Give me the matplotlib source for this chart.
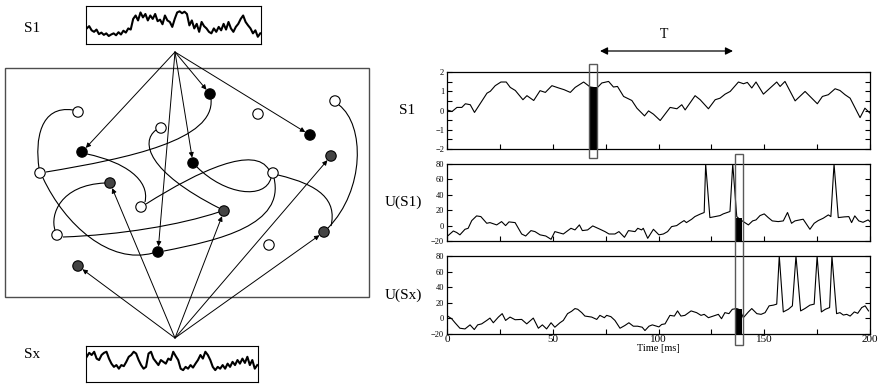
import numpy as np
import matplotlib
matplotlib.use("Agg")
import matplotlib.pyplot as plt
from matplotlib.patches import Circle, Rectangle, PathPatch
from matplotlib.path import Path
from matplotlib.transforms import blended_transform_factory
from matplotlib.ticker import MultipleLocator

plt.rcParams['font.family'] = ['Liberation Serif', 'DejaVu Serif']

# ---- data ----
t_s1 = [0, 2.4, 4.7, 7, 8.7, 11, 13, 18.9, 20.5, 22.8, 25.5, 28, 29.9, 32.3, 35.9, 37.8, 41, 44,
        46.5, 49.6, 52.8, 55.4, 58.3, 60.6, 64.6, 67.7, 70.9, 73.2, 76.4, 78.7, 80.6, 83.5, 87.4,
        89.8, 93.4, 95.3, 97.6, 100.8, 105.5, 108.7, 111, 112.6, 117.3, 119.7, 123.6, 126.8,
        129.1, 131.5, 133.9, 137.8, 140.2, 142, 144.1, 146.1, 149.6, 155.9, 157.5, 159.8, 164.6,
        169.3, 175.1, 177.5, 180.3, 183.5, 185.8, 188.2, 190.6, 195.3, 197.6, 200]
s1 = [0.03, -0.05, 0.16, 0.16, 0.35, 0.3, -0.1, 0.9, 1.0, 1.29, 1.48, 1.48, 1.2, 1.04, 0.56, 0.77,
      0.52, 1.03, 0.94, 1.29, 1.17, 1.08, 0.94, 1.2, 1.48, 1.22, 1.17, 1.43, 1.51, 1.22, 1.25, 0.73,
      0.52, 0.12, -0.28, -0.02, -0.19, -0.52, 0.16, 0.09, 0.3, 0.03, 0.77, 0.56, 0.09, 0.56, 0.64,
      0.85, 0.99, 1.48, 1.39, 1.46, 1.17, 1.48, 0.85, 1.48, 1.25, 1.51, 0.5, 0.99, 0.35, 0.73, 0.82,
      1.13, 1.04, 0.82, 0.64, -0.37, 0.12, -0.14]

t_u1 = [0.3, 3, 4.6, 6.1, 8.5, 10, 11.7, 14, 16, 18.8, 20.3, 23.5, 25.8, 27.7, 29.3, 32.2, 35.3,
        37.2, 39.7, 41.6, 44, 46.7, 49.2, 51, 55, 58.6, 60.5, 62.6, 64, 66.5, 68.9, 72.4, 74.7,
        76.6, 79.4, 81.3, 83.9, 85.8, 88.9, 90.2, 92, 92.8, 94.9, 97.6, 100.2, 102.3, 104.3,
        106.2, 108.6, 110.6, 112.1, 113.2, 115.7, 117.2, 119.6, 121.6, 122.3, 124.3, 126.7,
        129.1, 130.6, 133.8, 135.1, 137, 138.5, 140.1, 142.5, 144.5, 146.1, 148, 150, 151.9,
        153.8, 156.6, 159, 161, 162.9, 164.5, 168.4, 171.6, 173.6, 175.5, 177.9, 180.3, 181.5,
        183, 185, 187.8, 190, 191.3, 192.8, 194.7, 196.7, 199.1, 200]
u1 = [-13.5, -7, -9, -12, -4.8, -3.5, 6.5, 12.6, 11.7, 3, 3.9, 0.9, 5.2, 0, 4.8, 3.9, -10.9, -13.5,
      -6.5, -7.8, -12, -13.5, -17.8, -7.8, -10.9, -3.5, -5.6, 0.9, -6.5, -5.6, -0.4, -4.8, -7.8,
      -10.9, -10.9, -7.8, -15.2, -6.5, -7.8, -3.5, -5.6, -3.5, -16.5, -4.8, -12, -10.9, -7.8,
      -1.3, 0, 3.9, 6.5, 3.9, 8.3, 11.7, 14.8, 17, 80, 10.4, 11.7, 13, 15.2, 18.3, 80, 11.7, 8,
      5.2, 0.9, 6.1, 7.4, 13, 15.2, 10.4, 6.1, 5.2, 6.1, 17, 3, 6.1, 8.3, -4.8, 3, 6.5, 9.6, 13.9,
      11.7, 80, 10.4, 11.3, 11.7, 3.9, 12.6, 6.1, 4.3, 7.4, 5.2]

t_ux = [0.3, 2.2, 3.8, 6.1, 8.5, 10.9, 12.9, 14.5, 16.4, 18.8, 20.3, 21.9, 24.3, 26.1, 27.7, 29.8,
        32.2, 35.3, 37.7, 40.8, 43.2, 45.1, 47.1, 49.2, 51, 53.4, 55, 57, 58.9, 60.5, 61.8, 63.7,
        65.2, 68.4, 70.8, 72.3, 74.4, 75.5, 77.5, 79.4, 81.8, 84.1, 86, 88.1, 90.1, 92.3, 93.6,
        95.5, 97.1, 100.2, 101.5, 103.1, 105.4, 107.5, 109, 110.6, 112.5, 115.4, 118, 120.1,
        121.6, 123.6, 125.9, 128.3, 129.8, 131.4, 133.3, 134.9, 137, 138.5, 140.1, 142.5, 144.1,
        146.5, 148.5, 150.4, 152.3, 154.3, 155.9, 157.1, 159, 161.4, 163.3, 165, 167.2, 169.2,
        171.6, 173.6, 175, 177, 178.9, 180.9, 182, 184.2, 185.8, 187.4, 189, 190.6, 192.6, 194.2,
        196.1, 197.7, 199.3]
ux = [3, -0.4, -5.6, -12.6, -13.5, -8.3, -14.3, -8.3, -7, -2.6, 0.4, -5.6, 1.7, 6.1, -2.6, 1.7,
      -1.7, -1.3, -7, 0.4, -12.6, -8.3, -13.5, -5.6, -11.3, -5.6, -2.6, 6.1, 9.1, 12.6, 11.7, 7.4,
      3, 1.7, -1.3, 3.9, 0.9, 3.9, 2.2, -2.6, -12.6, -9.1, -5.6, -10, -10, -11.3, -15.6, -10,
      -8.3, -10.9, -7.8, -7, 3.9, 3, 9.6, 3, 3.9, 9.6, 7.4, 3.9, 5.2, 0.9, 3, 5.2, -0.4, 7.4, 6.1,
      11.7, 12.6, 11, 0.9, 8.3, 12.6, 6.1, 5.2, 7.4, 16.1, 17, 18.3, 80, 8.3, 11.7, 16.1, 80, 9.6,
      12.6, 17, 18.3, 80, 8.3, 11.7, 13.9, 80, 6.1, 7.4, 4.3, 5.2, 3, 8.3, 6.5, 13.9, 16.1, 9.6]

# thumbnails of the two input signals (relative level in the small boxes)
mini_s1 = [.41, .47, .36, .32, .38, .26, .30, .24, .28, .21, .25, .28, .23, .31, .25, .35, .30, .41,
           .38, .66, .75, .62, .83, .70, .79, .62, .75, .66, .79, .60, .64, .52, .75, .62, .58, .45,
           .66, .83, .86, .81, .85, .79, .49, .62, .41, .53, .32, .58, .47, .41, .32, .28, .41, .32,
           .45, .36, .53, .38, .58, .41, .32, .45, .53, .66, .75, .58, .49, .41, .28, .36, .19, .28]
mini_sx = [.70, .81, .75, .84, .65, .61, .75, .81, .84, .65, .51, .42, .47, .37, .47, .44, .56, .70,
           .75, .84, .79, .61, .47, .37, .42, .79, .84, .65, .56, .47, .61, .56, .51, .65, .61, .84,
           .72, .61, .37, .33, .42, .37, .47, .40, .51, .61, .75, .65, .84, .75, .61, .42, .33, .42,
           .37, .47, .37, .51, .42, .56, .47, .61, .51, .65, .53, .70, .47, .61, .37, .47]

# network diagram (pixel layout): nodes and their fill
nodes = {
    'W1': (78, 112, 'white'), 'B1': (210, 94, 'black'), 'W2': (258, 114, 'white'),
    'W3': (335, 101, 'white'), 'W4': (161, 128, 'white'), 'B2': (82, 152, 'black'),
    'B3': (193, 163, 'black'), 'B4': (310, 135, 'black'), 'G1': (331, 156, '#444444'),
    'W5': (40, 173, 'white'), 'W6': (273, 173, 'white'), 'G2': (110, 183, '#444444'),
    'W7': (141, 207, 'white'), 'G3': (224, 211, '#444444'), 'W8': (57, 235, 'white'),
    'G4': (324, 232, '#444444'), 'B5': (158, 252, 'black'), 'W9': (269, 245, 'white'),
    'G5': (78, 266, '#444444'),
}
s1_targets = ['B2', 'B1', 'B3', 'B4', 'B5']
sx_targets = ['G5', 'G2', 'G3', 'G1', 'G4']
curves = [
    [(73, 110), (40, 105), (35, 140), (39, 168)],
    [(46, 172), (130, 158), (215, 140), (211, 99)],
    [(87, 154), (125, 162), (150, 180), (145, 202)],
    [(146, 204), (200, 170), (255, 145), (269, 170)],
    [(197, 167), (225, 195), (265, 200), (271, 178)],
    [(274, 178), (285, 225), (220, 240), (164, 251)],
    [(278, 175), (320, 185), (337, 200), (331, 226)],
    [(339, 105), (365, 125), (365, 190), (328, 228)],
    [(156, 130), (140, 142), (148, 172), (219, 208)],
    [(219, 212), (180, 225), (120, 235), (63, 237)],
    [(105, 183), (60, 185), (50, 215), (55, 230)],
    [(43, 178), (65, 225), (110, 265), (153, 253)],
]

fig = plt.figure(figsize=(8.82, 3.85), dpi=100)
W, H = 882, 385


def px_axes(x0, y0, x1, y1):
    return fig.add_axes([x0 / W, (H - y1) / H, (x1 - x0) / W, (y1 - y0) / H])


tick_kw = dict(direction='in', length=3.5, width=0.8, right=True, top=False)
ax1 = px_axes(447, 72, 870, 149)
ax2 = px_axes(447, 164, 870, 241)
ax3 = px_axes(447, 256, 870, 334)

ax1.plot(t_s1, s1, color='k', lw=0.8)
ax1.set_ylim(-2, 2)
ax1.yaxis.set_major_locator(MultipleLocator(1))
ax1.yaxis.set_minor_locator(MultipleLocator(0.5))
ax1.set_ylabel('S1', rotation=0, fontsize=11, labelpad=20, va='center')

ax2.plot(t_u1, u1, color='k', lw=0.8)
ax3.plot(t_ux, ux, color='k', lw=0.8)
for ax, lab in [(ax2, 'U(S1)'), (ax3, 'U(Sx)')]:
    ax.set_ylim(-20, 80)
    ax.yaxis.set_major_locator(MultipleLocator(20))
    ax.set_ylabel(lab, rotation=0, fontsize=11, labelpad=20, va='center')

for ax in (ax1, ax2, ax3):
    ax.set_xlim(0, 200)
    ax.xaxis.set_major_locator(MultipleLocator(50))
    ax.xaxis.set_minor_locator(MultipleLocator(25))
    ax.tick_params(which='both', **tick_kw)
    ax.tick_params(axis='y', labelsize=6, pad=2)
    ax.tick_params(axis='x', labelsize=8, pad=1)
    for sp in ax.spines.values():
        sp.set_linewidth(0.9)
ax1.tick_params(axis='x', labelbottom=False)
ax2.tick_params(axis='x', labelbottom=False)
ax3.set_xlabel('Time [ms]', fontsize=7.5, labelpad=0)

# black bars marking the sampled window
ax1.bar(69.2, np.interp(69.2, t_s1, s1) + 2, bottom=-2, width=3.0, color='k')
ax2.bar(138.0, np.interp(138.0, t_u1, u1) + 20, bottom=-20, width=2.8, color='k')
ax3.bar(138.0, np.interp(137.6, t_ux, ux) + 20, bottom=-20, width=2.8, color='k')

# thumbnails
for (x0, y0, x1, y1), vals in [((86, 6, 261, 44), mini_s1), ((86, 346, 258, 382), mini_sx)]:
    m = px_axes(x0, y0, x1, y1)
    m.plot(np.arange(len(vals)), vals, color='k', lw=1.5)
    m.set_xlim(-0.3, len(vals) - 0.7)
    m.set_ylim(0, 1)
    m.set_xticks([])
    m.set_yticks([])
    for sp in m.spines.values():
        sp.set_linewidth(0.8)

# overlay in pixel coordinates
ov = fig.add_axes([0, 0, 1, 1])
ov.set_xlim(0, W)
ov.set_ylim(H, 0)
ov.axis('off')
ov.patch.set_alpha(0)

ov.add_patch(Rectangle((5, 68), 364, 229, fill=False, ec='0.3', lw=1.0))
ov.text(32, 28, 'S1', fontsize=11, ha='center', va='center')
ov.text(32, 355, 'Sx', fontsize=11, ha='center', va='center')

for pts in curves:
    p = Path(pts, [Path.MOVETO, Path.CURVE4, Path.CURVE4, Path.CURVE4])
    ov.add_patch(PathPatch(p, fill=False, ec='k', lw=0.8))

apex_top = (175, 52)
apex_bot = (175, 338)
for key in s1_targets:
    x, y, _ = nodes[key]
    ov.annotate('', xy=(x, y), xytext=apex_top,
                arrowprops=dict(arrowstyle='-|>', color='k', lw=0.7,
                                mutation_scale=7, shrinkA=0, shrinkB=4))
for key in sx_targets:
    x, y, _ = nodes[key]
    ov.annotate('', xy=(x, y), xytext=apex_bot,
                arrowprops=dict(arrowstyle='-|>', color='k', lw=0.7,
                                mutation_scale=7, shrinkA=0, shrinkB=4))

for key, (x, y, c) in nodes.items():
    ov.add_patch(Circle((x, y), 5.2, fc=c, ec='k', lw=0.8, zorder=5))

# window outlines crossing the panels
tr1 = blended_transform_factory(ax1.transData, ov.transData)
tr2 = blended_transform_factory(ax2.transData, ov.transData)
ov.add_patch(Rectangle((67.3, 64), 3.8, 94, transform=tr1, fill=False, ec='0.35', lw=1.0))
ov.add_patch(Rectangle((136.3, 154), 3.6, 191, transform=tr2, fill=False, ec='0.35', lw=1.0))

# T arrow
ov.annotate('', xy=(733, 51), xytext=(600, 51),
            arrowprops=dict(arrowstyle='<|-|>', color='k', lw=0.9,
                            mutation_scale=11, shrinkA=0, shrinkB=0))
ov.text(664, 34, 'T', fontsize=10, ha='center', va='center')

fig.savefig('out.png', dpi=100)
